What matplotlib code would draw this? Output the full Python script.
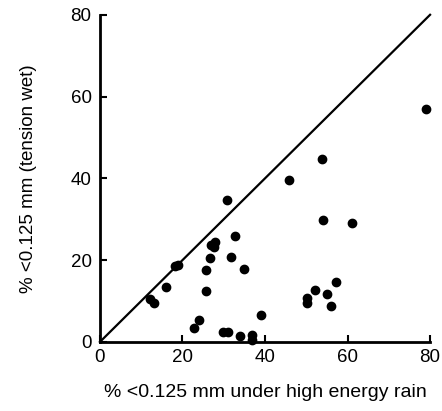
import matplotlib
matplotlib.use("Agg")
import matplotlib.pyplot as plt

plt.rcParams['font.family'] = ['Liberation Sans', 'DejaVu Sans']

# High energy rain (% <0.125 mm) vs tension wet (% <0.125 mm)
x_rain = [78.9, 53.9, 45.9, 30.7, 54.0, 61.0, 32.8, 26.8, 27.9, 27.7,
          26.7, 31.8, 25.8, 34.8, 25.8, 18.2, 19.0, 16.0, 12.1, 13.0,
          57.1, 52.0, 55.1, 50.1, 50.1, 56.1, 39.0, 23.9, 22.9, 29.9,
          31.0, 34.0, 36.9, 36.9]
y_tension = [57.0, 44.7, 39.7, 34.6, 29.7, 29.0, 25.8, 23.7, 24.5, 23.3,
             20.5, 20.7, 17.6, 17.8, 12.5, 18.6, 18.8, 13.5, 10.6, 9.5,
             14.7, 12.7, 11.8, 10.7, 9.5, 8.8, 6.6, 5.4, 3.3, 2.4,
             2.4, 1.5, 1.6, 0.4]
line_1to1 = [0, 80]
ticks = [0, 20, 40, 60, 80]

fig = plt.figure(figsize=(4.42, 4.11), dpi=100)
ax = fig.add_axes([0.226, 0.168, 0.747, 0.796])

ax.plot(line_1to1, line_1to1, color='black', lw=1.6, clip_on=False)
ax.scatter(x_rain, y_tension, s=36, color='black', zorder=3, clip_on=False)

ax.set_xlim(0, 80)
ax.set_ylim(0, 80)
ax.set_xticks(ticks)
ax.set_yticks(ticks)
for s in ['top', 'right']:
    ax.spines[s].set_visible(False)
for s in ['left', 'bottom']:
    ax.spines[s].set_linewidth(2)
ax.tick_params(direction='in', length=5, width=1.5, labelsize=13.5)
ax.tick_params(axis='y', pad=6)
ax.tick_params(axis='x', pad=5)
ax.set_xlabel('% <0.125 mm under high energy rain', fontsize=14, labelpad=13)
ax.set_ylabel('% <0.125 mm (tension wet)', fontsize=13.5, labelpad=24)

fig.savefig('out.png', dpi=100)
